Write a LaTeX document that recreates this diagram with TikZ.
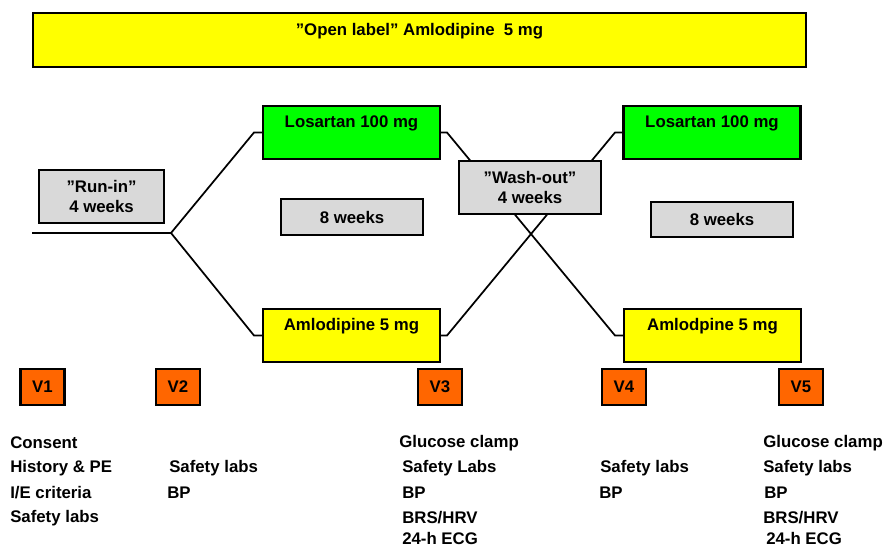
\documentclass[tikz,border=0pt]{standalone}
\usepackage{fontspec}
\setmainfont{Liberation Sans}
\pgfdeclarelayer{bg}\pgfsetlayers{bg,main}
\definecolor{ygel}{HTML}{FFFF00}
\definecolor{grn}{HTML}{00FF00}
\definecolor{gry}{HTML}{D9D9D9}
\definecolor{orng}{HTML}{FF6600}
\begin{document}
\begin{tikzpicture}[x=0.75pt,y=-0.75pt,
  font=\fontsize{12.6}{15}\selectfont\bfseries,
  box/.style={draw=black, line width=1.7pt, inner sep=0pt, align=center},
  armbox/.style={box, minimum width=132.75pt, minimum height=39.75pt},
  wkbox/.style={box, fill=gry, minimum width=106.5pt},
  vbox/.style={box, fill=orng, minimum width=33pt, minimum height=27pt},
  conn/.style={line width=1.3pt, line join=miter},
  lst/.style={anchor=west, inner sep=0pt}]
\useasboundingbox (0,0) rectangle (886,546);

% top bar
\node[box, fill=ygel, line width=2pt, minimum width=579.75pt, minimum height=40.5pt] (top) at (419.5,40) {};
\node (toptxt) at (419.5,31) {”Open label” Amlodipine\ \ 5 mg};

% run-in
\node[wkbox, minimum width=93.75pt, minimum height=39.75pt] (runin) at (101.5,196.5) {”Run-in”\\4 weeks};

% arm boxes
\node[armbox, fill=grn] (los1) at (351.5,132.5) {};
\node (los1t) at (351.5,123) {Losartan 100 mg};
\node[armbox, fill=ygel] (aml1) at (351.5,335.5) {};
\node (aml1t) at (351.5,326) {Amlodipine 5 mg};
\node[wkbox, minimum height=27pt] (wk1) at (352,217) {8 weeks};

\node[wkbox, minimum height=39.75pt] (wash) at (530,187.5) {”Wash-out”\\4 weeks};

\node[armbox, fill=grn] (los2) at (712,132.5) {};
\node (los2t) at (712,123) {Losartan 100 mg};
\node[armbox, fill=ygel] (aml2) at (712.5,335.5) {};
\node (aml2t) at (712.5,326) {Amlodpine 5 mg};
\node[wkbox, minimum height=26.25pt] (wk2) at (722,219.5) {8 weeks};

% connectors
\coordinate (start) at (32,233);
\coordinate (br) at (171,233);
\begin{pgfonlayer}{bg}
\draw[conn] (start) -- (br);
\draw[conn] (br) -- (254,132.5) -- (los1.west);
\draw[conn] (br) -- (254,335.5) -- (aml1.west);
\draw[conn] (los1.east) -- (447,132.5) -- (615,335.5) -- (aml2.west);
\draw[conn] (aml1.east) -- (447,335.5) -- (615,132.5) -- (los2.west);
\end{pgfonlayer}

% visits
\node[vbox] (v1) at (42.5,387) {V1};
\node[vbox] (v2) at (178,387) {V2};
\node[vbox] (v3) at (440,387) {V3};
\node[vbox] (v4) at (624,387) {V4};
\node[vbox] (v5) at (801,387) {V5};

% lists
\node[lst] (a1) at (10,443) {Consent};
\node[lst] (a2) at (10,468) {History \& PE};
\node[lst] (a3) at (10,493) {I/E criteria};
\node[lst] (a4) at (10,518) {Safety labs};

\node[lst] (b1) at (169,468) {Safety labs};
\node[lst] (b2) at (167,493) {BP};

\node[lst] (c1) at (399,443) {Glucose clamp};
\node[lst] (c2) at (402,468) {Safety Labs};
\node[lst] (c3) at (402,493) {BP};
\node[lst] (c4) at (402,518) {BRS/HRV};
\node[lst] (c5) at (402,538) {24-h ECG};

\node[lst] (d1) at (600,468) {Safety labs};
\node[lst] (d2) at (599,493) {BP};

\node[lst] (e1) at (763,443) {Glucose clamp};
\node[lst] (e2) at (763,468) {Safety labs};
\node[lst] (e3) at (764,493) {BP};
\node[lst] (e4) at (763,518) {BRS/HRV};
\node[lst] (e5) at (766,538) {24-h ECG};
\end{tikzpicture}
\end{document}
